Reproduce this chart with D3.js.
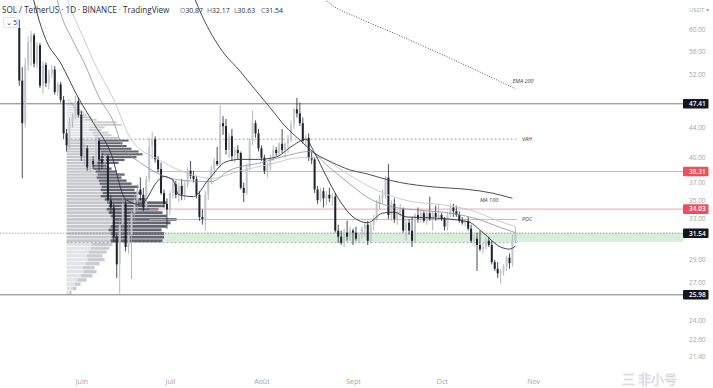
<!DOCTYPE html>
<html>
<head>
<meta charset="utf-8">
<script src="https://cdn.jsdelivr.net/npm/d3@7"></script>
<style>
  html, body { margin: 0; padding: 0; background: #fff; }
  svg { display: block; font-family: "Open Sans", "Noto Sans", sans-serif; }
</style>
</head>
<body>
<svg id="chart" width="713" height="388"></svg>
<script>
// ---- data (SOL / USDT daily, 2022-05-11 .. 2022-10-26) ----
const firstDay = Date.UTC(2022, 4, 11);
const lastDay = Date.UTC(2022, 9, 26);

const open = [60.2,51.0,44.6,53.6,57.6,58.8,53.8,57.0,50.2,53.6,
  50.6,52.2,52.8,49.2,50.4,48.0,43.2,41.6,44.8,45.4,
  47.8,45.8,40.2,41.2,38.8,39.6,39.2,42.2,39.8,39.4,
  40.2,35.0,34.2,31.2,28.6,32.4,34.6,30.2,31.4,33.6,
  35.0,36.2,35.6,34.2,37.4,41.4,42.4,39.8,38.6,35.8,
  34.6,34.0,35.8,36.8,35.6,36.6,35.6,36.8,38.4,37.8,
  37.4,35.6,33.2,33.0,35.6,37.2,38.6,39.6,39.2,44.6,
  44.2,41.0,42.8,40.2,41.0,40.6,36.4,35.8,38.8,42.2,
  44.6,43.2,41.2,40.0,38.4,38.8,40.0,41.0,40.6,41.8,
  41.0,41.8,42.4,44.4,46.6,46.0,44.6,42.2,42.6,40.0,
  39.8,36.2,35.0,36.0,35.2,35.6,35.2,35.4,31.8,31.2,
  30.6,31.6,31.2,31.8,31.6,31.0,31.4,32.0,32.4,30.8,
  32.4,33.0,34.6,35.2,35.6,37.6,33.4,34.6,33.0,33.6,
  34.0,31.8,32.6,31.8,30.8,33.4,33.0,33.6,32.8,33.6,
  33.0,33.6,33.2,33.4,33.0,32.2,33.4,34.2,33.8,33.4,
  32.8,32.6,32.8,32.0,30.8,31.0,30.4,30.0,30.2,30.8,
  30.4,28.8,28.2,27.8,28.0,28.4,29.2,28.7,30.87];

const high = [61.8,53.2,54.8,58.6,59.6,59.2,57.6,57.4,54.2,54.0,
  52.8,53.6,53.4,50.8,50.8,48.6,43.8,45.4,46.0,48.6,
  48.4,46.4,41.8,41.6,40.0,40.2,42.8,42.6,40.6,40.6,
  40.4,35.6,34.6,31.4,33.0,35.2,35.0,32.8,34.0,35.6,
  36.8,37.6,36.4,37.8,42.6,43.4,42.8,40.2,39.4,36.2,
  35.2,36.0,37.4,37.2,37.0,37.4,37.2,38.8,39.6,38.4,
  37.8,36.0,34.0,36.0,37.6,39.0,40.0,41.4,47.2,45.6,
  45.2,43.2,43.8,41.4,41.6,40.8,37.0,39.2,42.6,46.4,
  45.0,43.8,41.6,40.4,39.4,40.4,41.6,41.4,42.0,43.8,
  42.0,43.0,45.0,46.8,48.3,47.6,45.4,43.0,43.2,40.8,
  40.0,36.6,36.4,36.4,36.0,36.4,35.8,35.8,32.4,31.8,
  32.0,32.8,32.2,32.0,32.2,31.6,32.2,32.6,32.8,32.6,
  33.4,35.0,35.6,36.2,37.8,39.2,35.0,35.2,34.0,34.6,
  34.2,33.0,33.0,33.2,33.6,34.2,34.0,33.8,33.8,35.4,
  33.8,34.4,34.6,33.6,33.2,33.6,34.6,34.6,34.4,33.8,
  33.2,33.0,33.2,32.4,31.4,31.6,31.8,30.6,31.0,31.2,
  30.8,29.0,28.8,28.2,28.6,29.4,29.6,31.4,32.17];

const low = [50.2,37.5,44.0,52.6,53.4,53.2,53.0,49.8,49.0,50.0,
  49.6,51.4,48.8,48.6,47.6,42.4,40.8,41.2,44.0,45.2,
  45.4,39.6,39.0,38.4,38.2,38.6,39.0,38.4,38.6,39.0,
  34.6,33.6,30.6,27.4,25.98,31.6,29.8,29.6,27.3,32.6,
  33.8,35.0,33.8,34.0,37.0,39.8,39.4,38.2,35.6,34.2,
  32.0,33.4,35.2,35.2,34.8,35.0,35.0,36.4,37.4,37.0,
  35.2,32.8,32.4,31.8,35.0,36.8,37.8,39.0,38.8,43.0,
  40.4,40.0,39.6,39.4,39.8,36.2,34.8,35.6,38.4,41.6,
  42.6,40.8,39.6,38.0,37.6,38.4,39.6,40.2,40.2,40.6,
  40.0,40.6,42.0,43.8,45.4,44.2,41.8,41.4,39.6,39.2,
  35.8,34.6,34.8,34.2,34.4,34.8,34.4,31.6,30.6,30.4,
  30.2,30.8,30.8,30.4,30.8,30.6,31.0,31.2,30.4,30.6,
  31.8,32.8,34.0,34.6,35.2,33.0,32.8,32.6,32.4,33.2,
  31.6,30.8,31.4,30.2,30.6,32.6,32.6,32.6,32.4,32.8,
  31.8,32.8,32.8,32.8,31.8,31.8,33.2,33.2,33.2,32.6,
  32.4,32.2,31.8,30.6,30.2,28.0,29.8,29.6,30.0,30.2,
  28.6,28.0,27.4,26.9,27.6,28.0,28.2,28.4,30.63];

const close = [51.0,44.6,53.6,57.6,58.8,53.8,57.0,50.2,53.6,50.6,
  52.2,52.8,49.2,50.4,48.0,43.2,41.6,44.8,45.4,47.8,
  45.8,40.2,41.2,38.8,39.6,39.2,42.2,39.8,39.4,40.2,
  35.0,34.2,31.2,28.6,32.4,34.6,30.2,31.4,33.6,35.0,
  36.2,35.6,34.2,37.4,41.4,42.4,39.8,38.6,35.8,34.6,
  34.0,35.8,36.8,35.6,36.6,35.6,36.8,38.4,37.8,37.4,
  35.6,33.2,33.0,35.6,37.2,38.6,39.6,39.2,44.6,44.2,
  41.0,42.8,40.2,41.0,40.6,36.4,35.8,38.8,42.2,44.6,
  43.2,41.2,40.0,38.4,38.8,40.0,41.0,40.6,41.8,41.0,
  41.8,42.4,44.4,46.6,46.0,44.6,42.2,42.6,40.0,39.8,
  36.2,35.0,36.0,35.2,35.6,35.2,35.4,31.8,31.2,30.6,
  31.6,31.2,31.8,31.6,31.0,31.4,32.0,32.4,30.8,32.4,
  33.0,34.6,35.2,35.6,37.6,33.4,34.6,33.0,33.6,34.0,
  31.8,32.6,31.8,30.8,33.4,33.0,33.6,32.8,33.6,33.0,
  33.6,33.2,33.4,33.0,32.2,33.4,34.2,33.8,33.4,32.8,
  32.6,32.8,32.0,30.8,31.0,30.4,30.0,30.2,30.8,30.4,
  28.8,28.2,27.8,28.0,28.4,29.2,28.7,30.87,31.54];

// moving averages: [day index, price]
const emaFast = [[4,68],[6,63.1],[9,58.0],[14,53.9],[20,48.3],[25,44.7],[31,40.6],[36,35.1],[41,34.5],[43,35.1],
  [46,36.8],[49,37.7],[52,37.3],[54,35.6],[59,35.4],[64,37.3],[70,39.5],[75,39.8],[81,39.8],[87,40.1],
  [92,41.4],[97,42.4],[100,40.6],[104,37.7],[109,34.7],[113,33.2],[118,32.6],[123,33.6],[127,33.7],
  [131,33.2],[140,33.1],[152,32.7],[157,31.6],[163,30.2],[166,30.0],[168,30.3]];
const emaMid = [[12,68],[14,63.1],[18,58.0],[22,53.9],[27,48.4],[32,44.7],[35,41.4],[41,39.4],[48,37.9],
  [54,37.3],[65,37.1],[71,38.4],[82,39.4],[92,40.4],[98,40.8],[105,38.8],[112,36.8],[119,35.1],
  [126,34.3],[136,33.9],[146,33.6],[156,32.9],[163,32.1],[168,31.6]];
const emaSlow = [[15,68],[18,63.1],[22,58.0],[25,54.4],[32,48.0],[38,42.3],[47,39.8],[54,38.5],[65,37.5],
  [75,38.4],[85,39.2],[95,40.0],[102,40.0],[109,38.5],[115,37.2],[124,35.7],[132,34.9],[143,34.5],
  [153,33.9],[163,32.7],[168,32.2]];
const ma100 = [[57,70],[61,63.7],[68,56.5],[75,52.4],[80,49.5],[85,46.8],[90,44.2],[95,42.3],[100,40.6],
  [106,39.4],[112,38.5],[118,38.0],[125,37.3],[129,37.0],[140,36.5],[152,36.2],[160,35.8],[167,35.2]];
const ema200 = [[101,67.5],[105,65.1],[115,62.1],[129,58.7],[143,55.4],[156,52.4],[168,49.7]];

// visible range volume profile, rows of 0.357 from 25.98
const vpLow = 25.98, vpStep = 0.357, vpStartDay = 16;
const vpUp = [3,6,8,11,14,17,16,19,21,20, 22,24,25,44,45,44,42,44,46,48,
  44,42,40,42,42,38,34,36,34,35, 33,32,30,31,29,27,26,30,32,34,
  35,34,33,32,31,33,30,27,26,22, 23,28,27,18,15,12,11,9,6,5, 4,3];
const vpDown = [2,4,6,9,12,13,12,14,17,16, 18,19,21,52,55,54,53,56,58,62,
  56,54,52,56,58,42,36,39,34,37, 32,28,25,27,21,18,14,22,26,36,
  41,38,32,28,25,29,22,18,16,13, 15,27,23,12,10,8,7,5,4,3, 2,1];
const vaRows = [13, 45];

// horizontal levels
const blackLevels = [47.41, 25.98];
const redLevels = [38.31, 34.03];
const redStartDay = 44;
const zoneTop = 31.6, zoneBottom = 30.68, zoneStartDay = 49;
const lastPrice = 31.54;

const priceTicks = [60, 56, 52, 44, 40, 37, 35, 33, 29, 27, 24, 22.6, 21.4];
const monthTicks = [Date.UTC(2022,5,1), Date.UTC(2022,6,1), Date.UTC(2022,7,1), Date.UTC(2022,8,1), Date.UTC(2022,9,1), Date.UTC(2022,10,1)];
const monthLabels = ["Juin", "Juil", "Août", "Sept", "Oct", "Nov"];

// ---- drawing ----
const svg = d3.select("#chart");
const plotW = 683, plotH = 372;

const days = d3.utcDay.range(new Date(firstDay), new Date(lastDay + 864e5));
const x = d3.scaleUtc().domain([new Date(firstDay), new Date(lastDay)]).range([19.3, 515.4]);
const y = d3.scaleLog().domain([60, 24]).range([29, 320]);
const xd = i => x(days[i]);

svg.append("rect").attr("width", 713).attr("height", 388).attr("fill", "#fff");

svg.append("clipPath").attr("id", "plot")
  .append("rect").attr("width", plotW).attr("height", plotH);

const g = svg.append("g").attr("clip-path", "url(#plot)");

// volume profile
const vpTotal = vpUp.map((u, i) => u + vpDown[i]);
const vpW = d3.scaleLinear().domain([0, d3.max(vpTotal)]).range([0, 110]);
const vpX0 = xd(vpStartDay);
const rows = vpUp.map((u, k) => ({
  k, up: u, down: vpDown[k],
  lo: vpLow + k * vpStep, hi: vpLow + (k + 1) * vpStep,
  inVA: k >= vaRows[0] && k <= vaRows[1]
}));
const vp = g.append("g");
vp.selectAll("rect.up").data(rows).enter().append("rect")
  .attr("x", vpX0)
  .attr("y", d => y(d.hi) + 0.35)
  .attr("width", d => vpW(d.up))
  .attr("height", d => Math.max(0.5, y(d.lo) - y(d.hi) - 0.7))
  .attr("fill", d => d.inVA ? "#c4c6cb" : "#e2e3e6");
vp.selectAll("rect.down").data(rows).enter().append("rect")
  .attr("x", d => vpX0 + vpW(d.up))
  .attr("y", d => y(d.hi) + 0.35)
  .attr("width", d => vpW(d.down))
  .attr("height", d => Math.max(0.5, y(d.lo) - y(d.hi) - 0.7))
  .attr("fill", d => d.inVA ? "#63666f" : "#cacbd0");

const pocRow = rows[d3.maxIndex(vpTotal)];
const poc = (pocRow.lo + pocRow.hi) / 2;
const vah = rows[vaRows[1]].hi, val = rows[vaRows[0]].lo;

// green zone
g.append("rect")
  .attr("x", xd(zoneStartDay)).attr("y", y(zoneTop))
  .attr("width", plotW - xd(zoneStartDay)).attr("height", y(zoneBottom) - y(zoneTop))
  .attr("fill", "#d9eed9");

// level lines
blackLevels.forEach(p => {
  g.append("line").attr("x1", 0).attr("x2", plotW).attr("y1", y(p)).attr("y2", y(p))
    .attr("stroke", "#6b6e78").attr("stroke-width", 0.9);
});
redLevels.forEach(p => {
  g.append("line").attr("x1", xd(redStartDay)).attr("x2", plotW).attr("y1", y(p)).attr("y2", y(p))
    .attr("stroke", "#f09aa1").attr("stroke-width", 0.9);
});
g.append("line").attr("x1", xd(redStartDay)).attr("x2", 517).attr("y1", y(poc)).attr("y2", y(poc))
  .attr("stroke", "#f09aa1").attr("stroke-width", 0.9);
[vah, val].forEach(p => {
  g.append("line").attr("x1", vpX0).attr("x2", 517).attr("y1", y(p)).attr("y2", y(p))
    .attr("stroke", "#8c8f98").attr("stroke-width", 0.8).attr("stroke-dasharray", "2,2");
});
g.append("line").attr("x1", 0).attr("x2", plotW).attr("y1", y(lastPrice)).attr("y2", y(lastPrice))
  .attr("stroke", "#8c8f98").attr("stroke-width", 0.8).attr("stroke-dasharray", "1.5,1.5");

// candles
const bars = d3.range(open.length).map(i => ({ i, o: open[i], h: high[i], l: low[i], c: close[i] }));
const cg = g.append("g");
cg.selectAll("line").data(bars).enter().append("line")
  .attr("x1", d => xd(d.i)).attr("x2", d => xd(d.i))
  .attr("y1", d => y(d.h)).attr("y2", d => y(d.l))
  .attr("stroke", d => d.c >= d.o ? "#a3a6ae" : "#1e222d")
  .attr("stroke-width", 0.8);
cg.selectAll("rect").data(bars).enter().append("rect")
  .attr("x", d => xd(d.i) - 1)
  .attr("y", d => y(Math.max(d.o, d.c)))
  .attr("width", 2)
  .attr("height", d => Math.max(0.8, Math.abs(y(d.o) - y(d.c))))
  .attr("fill", d => d.c >= d.o ? "#c3c6cc" : "#1e222d");

// moving averages
const line = d3.line().x(d => xd(d[0])).y(d => y(d[1])).curve(d3.curveMonotoneX);
const maStyles = [
  [emaSlow, "#c4c6cc", 0.9, null],
  [emaMid, "#8e9199", 0.8, null],
  [emaFast, "#2e313b", 0.9, null],
  [ma100, "#4b4e58", 1, null],
  [ema200, "#3f424c", 0.9, "1,1.6"]
];
maStyles.forEach(([pts, col, w, dash]) => {
  g.append("path").datum(pts).attr("d", line)
    .attr("fill", "none").attr("stroke", col).attr("stroke-width", w)
    .attr("stroke-dasharray", dash);
});

// small italic labels
const labels = [
  ["VAH", 522, y(vah)], ["POC", 522, y(poc)],
  ["MA 100", 480, y(ma100[ma100.length - 1][1]) + 1.5],
  ["EMA 200", 512.5, 81]
];
g.selectAll("text.lbl").data(labels).enter().append("text")
  .attr("x", d => d[1]).attr("y", d => d[2]).attr("dy", "0.35em")
  .attr("font-size", 5.5).attr("font-style", "italic").attr("fill", "#3f424c")
  .text(d => d[0]);

// price axis
const ay = svg.append("g").attr("transform", `translate(${plotW},0)`)
  .call(d3.axisRight(y).tickValues(priceTicks).tickFormat(d3.format(".2f")).tickSize(0).tickPadding(6));
ay.select(".domain").remove();
ay.selectAll("text").attr("font-size", 6.5).attr("fill", "#a2a5ad").attr("font-family", "Open Sans, sans-serif");

svg.append("text").attr("x", 689).attr("y", 12).attr("font-size", 6).attr("fill", "#a2a5ad").text("USDT ▾");

// price tags
const tags = [[47.41, "#131722"], [38.31, "#ef4f5a"], [34.03, "#ef4f5a"], [31.54, "#131722"], [25.98, "#131722"]];
tags.forEach(([p, col]) => {
  svg.append("rect").attr("x", plotW).attr("y", y(p) - 4.8).attr("width", 25.5).attr("height", 9.6)
    .attr("rx", 1).attr("fill", col);
  svg.append("text").attr("x", 689).attr("y", y(p)).attr("dy", "0.35em")
    .attr("font-size", 6.5).attr("font-weight", 600).attr("fill", "#fff").text(p.toFixed(2));
});

// time axis
const ax = svg.append("g").attr("transform", `translate(0,376)`)
  .call(d3.axisBottom(x).tickValues(monthTicks.map(t => new Date(t)))
    .tickFormat((d, i) => monthLabels[i]).tickSize(0).tickPadding(3));
ax.select(".domain").remove();
ax.selectAll("text").attr("font-size", 7).attr("fill", "#a2a5ad").attr("font-family", "Open Sans, sans-serif");

// header
svg.append("text").attr("x", 2).attr("y", 12.5).attr("font-size", 8.1).attr("fill", "#2a2e39")
  .text("SOL / TetherUS · 1D · BINANCE · TradingView");
const ohlcLast = [["O", open], ["H", high], ["L", low], ["C", close]];
const ohlcX = [180, 207, 234, 261];
ohlcLast.forEach(([k, arr], j) => {
  const t = svg.append("text").attr("x", ohlcX[j]).attr("y", 12.5).attr("font-size", 6.9).attr("fill", "#2a2e39");
  t.append("tspan").attr("fill", "#6a6d78").text(k);
  t.append("tspan").text(arr[arr.length - 1].toFixed(2));
});

svg.append("rect").attr("x", 3.5).attr("y", 17.5).attr("width", 14).attr("height", 10)
  .attr("rx", 2).attr("fill", "#fff").attr("stroke", "#d6d8de").attr("stroke-width", 0.8);
svg.append("text").attr("x", 5.5).attr("y", 25).attr("font-size", 6.5).attr("fill", "#2a2e39").text("⌄ 5");

// watermark
svg.append("text").attr("x", 622).attr("y", 384).attr("font-size", 13)
  .attr("font-family", "Noto Sans CJK SC, sans-serif")
  .attr("fill", "#eef0f3").attr("stroke", "#cfd1d6").attr("stroke-width", 0.5)
  .text("三 非小号");
</script>
</body>
</html>
